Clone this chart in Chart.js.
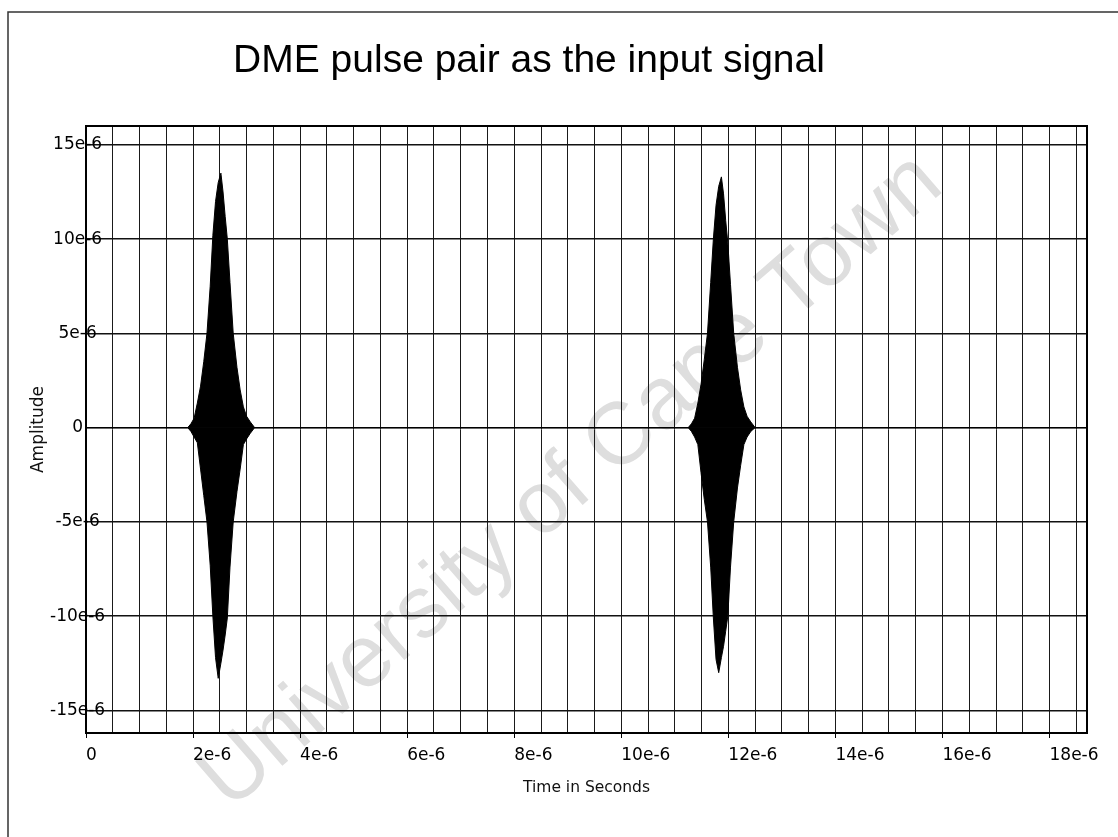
<!DOCTYPE html>
<html>
<head>
<meta charset="utf-8">
<title>DME pulse pair as the input signal</title>
<script src="https://cdn.jsdelivr.net/npm/chart.js@4.4.1/dist/chart.umd.min.js"></script>
<style>
  html, body { margin: 0; padding: 0; background: #fff; }
  canvas { display: block; }
</style>
</head>
<body>
<canvas id="chart" width="1118" height="837"></canvas>
<script>
// time in microseconds, amplitude in units of 1e-6 (envelope of the carrier)
const pulse1Time  = [1.90, 1.96, 2.02, 2.08, 2.14, 2.20, 2.26, 2.32, 2.37, 2.42, 2.47, 2.52, 2.56, 2.60, 2.64, 2.69, 2.75, 2.82, 2.88, 2.94, 3.00, 3.07, 3.15];
const pulse1Upper = [0, 0.2, 0.5, 1.3, 2.2, 3.5, 5.0, 7.5, 10.2, 12.0, 13.0, 13.5, 12.5, 11.2, 10.0, 7.7, 5.0, 3.2, 2.0, 1.1, 0.6, 0.3, 0];
const pulse1Lower = [0, -0.2, -0.5, -0.8, -2.2, -3.6, -5.0, -7.3, -10.0, -12.2, -13.3, -12.5, -11.8, -11.0, -10.1, -7.4, -5.0, -3.4, -2.2, -0.9, -0.6, -0.3, 0];

const pulse2Time  = [11.25, 11.31, 11.37, 11.43, 11.49, 11.55, 11.61, 11.67, 11.72, 11.77, 11.82, 11.87, 11.91, 11.95, 11.99, 12.04, 12.10, 12.17, 12.23, 12.29, 12.35, 12.42, 12.50];
const pulse2Upper = [0, 0.2, 0.5, 1.3, 2.3, 3.6, 5.0, 7.7, 10.0, 11.8, 12.8, 13.3, 12.4, 11.0, 9.8, 7.6, 5.0, 3.2, 2.0, 1.1, 0.6, 0.3, 0];
const pulse2Lower = [0, -0.2, -0.5, -0.9, -2.4, -3.8, -5.0, -7.4, -10.1, -12.3, -13.0, -12.2, -11.6, -10.8, -10.0, -7.4, -5.0, -3.2, -2.0, -0.9, -0.5, -0.2, 0];

const timeRange = [0, 18.7];
const ampRange = [-16.2, 16];
const xTickLabels = ["0", "2e-6", "4e-6", "6e-6", "8e-6", "10e-6", "12e-6", "14e-6", "16e-6", "18e-6"];
const yTickLabels = ["-15e-6", "-10e-6", "-5e-6", "0", "5e-6", "10e-6", "15e-6"];

function trace(times1, vals1, times2, vals2) {
    const pts = [{ x: timeRange[0], y: 0 }];
    times1.forEach((t, i) => pts.push({ x: t, y: vals1[i] }));
    times2.forEach((t, i) => pts.push({ x: t, y: vals2[i] }));
    pts.push({ x: timeRange[1], y: 0 });
    return pts;
}

const paper = {
    id: "paper",
    beforeDraw(chart) {
        const ctx = chart.ctx;
        ctx.save();
        ctx.fillStyle = "#fff";
        ctx.fillRect(0, 0, chart.width, chart.height);
        // scanned page border
        ctx.strokeStyle = "#333";
        ctx.lineWidth = 1.5;
        ctx.beginPath();
        ctx.moveTo(8, chart.height);
        ctx.lineTo(8, 12);
        ctx.lineTo(chart.width, 12);
        ctx.stroke();
        // watermark
        ctx.translate(572, 482);
        ctx.rotate(-41 * Math.PI / 180);
        ctx.fillStyle = "#dedede";
        ctx.font = "88px 'Liberation Sans', Arial, sans-serif";
        ctx.textAlign = "center";
        ctx.textBaseline = "middle";
        ctx.fillText("University of Cape Town", 0, 0);
        ctx.restore();
    },
    afterDraw(chart) {
        const ctx = chart.ctx;
        const a = chart.chartArea;
        ctx.save();
        ctx.strokeStyle = "#000";
        ctx.lineWidth = 2;
        ctx.strokeRect(a.left, a.top, a.right - a.left, a.bottom - a.top);
        ctx.fillStyle = "#000";
        ctx.font = "39px 'Liberation Sans', Arial, sans-serif";
        ctx.textAlign = "center";
        ctx.textBaseline = "alphabetic";
        ctx.fillText("DME pulse pair as the input signal", 529, 72);
        ctx.restore();
    }
};

const tickFont = { family: "'DejaVu Sans', sans-serif", size: 17 };

new Chart(document.getElementById("chart"), {
    type: "line",
    data: {
        datasets: [
            {
                label: "upper",
                data: trace(pulse1Time, pulse1Upper, pulse2Time, pulse2Upper),
                borderColor: "#000",
                backgroundColor: "#000",
                borderWidth: 1,
                fill: "origin",
                pointRadius: 0,
                tension: 0
            },
            {
                label: "lower",
                data: trace(pulse1Time, pulse1Lower, pulse2Time, pulse2Lower),
                borderColor: "#000",
                backgroundColor: "#000",
                borderWidth: 1,
                fill: "origin",
                pointRadius: 0,
                tension: 0
            }
        ]
    },
    options: {
        responsive: false,
        animation: false,
        layout: { padding: { top: 126, right: 31, bottom: 0, left: 0 } },
        plugins: {
            legend: { display: false },
            tooltip: { enabled: false },
            title: { display: false }
        },
        scales: {
            x: {
                type: "linear",
                min: timeRange[0],
                max: timeRange[1],
                afterFit: (s) => { s.height = 104; },
                grid: {
                    color: "#1a1a1a",
                    lineWidth: 1,
                    drawTicks: true,
                    tickLength: 5,
                    tickColor: (c) => (Math.abs(c.tick.value / 2 - Math.round(c.tick.value / 2)) < 1e-6 ? "#000" : "rgba(0,0,0,0)")
                },
                border: { display: false },
                ticks: {
                    stepSize: 0.5,
                    autoSkip: false,
                    includeBounds: false,
                    maxRotation: 0,
                    align: "start",
                    padding: 7,
                    color: "#000",
                    font: tickFont,
                    callback: (v) => {
                        const k = Math.round(v / 2);
                        return Math.abs(v / 2 - k) < 1e-6 ? xTickLabels[k] : "";
                    }
                },
                title: {
                    display: true,
                    text: "Time in Seconds",
                    color: "#111",
                    font: { family: "'DejaVu Sans', sans-serif", size: 15.5 },
                    padding: { top: 0, bottom: 40 }
                }
            },
            y: {
                min: ampRange[0],
                max: ampRange[1],
                afterFit: (s) => { s.width = 86; },
                grid: { color: "#111", lineWidth: 1.5, drawTicks: false },
                border: { display: false },
                ticks: {
                    stepSize: 5,
                    autoSkip: false,
                    includeBounds: false,
                    mirror: true,
                    crossAlign: "center",
                    padding: -36,
                    color: "#000",
                    font: tickFont,
                    callback: (v) => yTickLabels[Math.round((v + 15) / 5)]
                },
                title: {
                    display: true,
                    text: "Amplitude",
                    color: "#111",
                    font: { family: "'DejaVu Sans', sans-serif", size: 17 },
                    padding: { top: 28, bottom: 0 }
                }
            }
        }
    },
    plugins: [paper]
});
</script>
</body>
</html>
